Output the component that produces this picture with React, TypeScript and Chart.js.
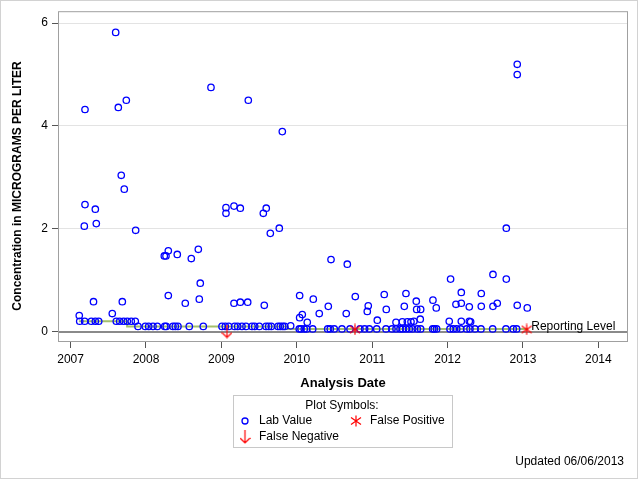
import React, { useEffect, useRef } from "react";
import { Chart, registerables } from "chart.js";
Chart.register(...registerables);

const X_TICKS = [2007, 2008, 2009, 2010, 2011, 2012, 2013, 2014];
const Y_TICKS = [0, 2, 4, 6];
const X_MIN = 2006.833;
const X_MAX = 2014.393;
const Y_MIN = -0.204;
const Y_MAX = 6.233;

// Detected lab values (decimal year, micrograms per liter)
const labDates = [
  2007.598, 2007.191, 2007.633, 2007.739, 2008.862, 2009.357, 2009.808, 2012.924, 2012.924,
  2007.672, 2007.712, 2007.191, 2007.328, 2007.341, 2007.182, 2007.863, 2008.243, 2008.265,
  2008.296, 2008.415, 2008.601, 2008.694, 2008.72, 2008.707, 2008.296, 2008.521, 2007.304,
  2007.686, 2007.115, 2007.553, 2009.061, 2009.061, 2009.167, 2009.251, 2009.167, 2009.251,
  2009.349, 2009.556, 2009.595, 2009.649, 2009.768, 2010.454, 2010.67, 2012.04, 2009.569,
  2010.038, 2010.219, 2010.418, 2010.298, 2010.776, 2011.16, 2011.448, 2011.806, 2011.585,
  2010.948, 2010.935, 2010.656, 2011.187, 2011.426, 2011.59, 2011.643, 2011.638, 2011.85,
  2010.038, 2010.073, 2010.139, 2011.068, 2011.316, 2011.4, 2011.466, 2011.515, 2011.554,
  2012.779, 2012.602, 2012.779, 2012.182, 2012.447, 2012.111, 2012.182, 2012.288, 2012.447,
  2012.602, 2012.659, 2012.924, 2013.057, 2012.022, 2012.182, 2012.288, 2012.306, 2009.919,
];
const labValues = [
  5.82, 4.32, 4.36, 4.5, 4.75, 4.5, 3.89, 5.2, 5.0,
  3.04, 2.77, 2.47, 2.38, 2.1, 2.05, 1.97, 1.47, 1.47,
  1.57, 1.5, 1.42, 1.6, 0.94, 0.63, 0.7, 0.55, 0.58,
  0.58, 0.31, 0.35, 2.41, 2.3, 2.44, 2.4, 0.55, 0.57,
  0.57, 2.3, 2.4, 1.91, 2.01, 1.4, 1.31, 1.02, 0.51,
  0.7, 0.63, 0.49, 0.35, 0.68, 0.72, 0.74, 0.61, 0.59,
  0.5, 0.39, 0.35, 0.43, 0.49, 0.43, 0.43, 0.24, 0.46,
  0.27, 0.33, 0.18, 0.22, 0.18, 0.19, 0.19, 0.19, 0.2,
  2.01, 1.11, 1.02, 0.76, 0.74, 0.53, 0.55, 0.48, 0.49,
  0.49, 0.55, 0.51, 0.46, 0.2, 0.2, 0.2, 0.19, 0.11,
];

// Lab values reported at the reporting level
const rl020Dates = [
  2007.121, 2007.187, 2007.275, 2007.328, 2007.373, 2007.606, 2007.651, 2007.704, 2007.752,
  2007.805, 2007.858,
];
const rl010Dates = [
  2007.894, 2007.991, 2008.036, 2008.093, 2008.15, 2008.248, 2008.269, 2008.358, 2008.389,
  2008.424, 2008.574, 2008.76, 2009.008, 2009.052, 2009.097, 2009.176, 2009.216, 2009.273,
  2009.326, 2009.406, 2009.442, 2009.503, 2009.592, 2009.627, 2009.662, 2009.751, 2009.781,
  2009.813, 2009.839,
];
const rl005Dates = [
  2010.033, 2010.056, 2010.099, 2010.131, 2010.211, 2010.41, 2010.444, 2010.497, 2010.599,
  2010.706, 2010.838, 2010.9, 2010.962, 2011.06, 2011.183, 2011.263, 2011.316, 2011.369,
  2011.404, 2011.448, 2011.492, 2011.537, 2011.598, 2011.643, 2011.802, 2011.824, 2011.855,
  2012.032, 2012.076, 2012.121, 2012.174, 2012.253, 2012.297, 2012.363, 2012.443, 2012.598,
  2012.774, 2012.871, 2012.916,
];

// Reporting level (step line)
const rlDates = [2007.11, 2007.75, 2009.88, 2013.07];
const rlValues = [0.2, 0.1, 0.05, 0.05];

// False negatives / positives
const fnDates = [2009.074];
const fnValues = [0];
const fpDates = [2010.772, 2013.049];
const fpValues = [0.04, 0.04];

const FONT = "'Liberation Sans', Arial, Helvetica, sans-serif";
const BLUE = "#0000ff";
const RED = "#ff0000";
const GREEN = "#a3bf6c";

function makeArrow(): HTMLCanvasElement {
  const c = document.createElement("canvas");
  c.width = 11;
  c.height = 14;
  const g = c.getContext("2d")!;
  g.strokeStyle = RED;
  g.lineWidth = 1.2;
  g.beginPath();
  g.moveTo(5.5, 0);
  g.lineTo(5.5, 13);
  g.moveTo(0.5, 8);
  g.lineTo(5.5, 13);
  g.lineTo(10.5, 8);
  g.stroke();
  return c;
}

function makeAsterisk(): HTMLCanvasElement {
  const c = document.createElement("canvas");
  c.width = 12;
  c.height = 12;
  const g = c.getContext("2d")!;
  g.strokeStyle = RED;
  g.lineWidth = 1.2;
  g.beginPath();
  g.moveTo(6, 0.5);
  g.lineTo(6, 11.5);
  g.moveTo(1, 2.5);
  g.lineTo(11, 9.5);
  g.moveTo(1, 9.5);
  g.lineTo(11, 2.5);
  g.stroke();
  return c;
}

export default function App() {
  const ref = useRef<HTMLCanvasElement>(null);

  useEffect(() => {
    const arrow = makeArrow();
    const aster = makeAsterisk();
    const lab = [
      ...labDates.map((d, i) => ({ x: d, y: labValues[i] })),
      ...rl020Dates.map((d) => ({ x: d, y: 0.2 })),
      ...rl010Dates.map((d) => ({ x: d, y: 0.1 })),
      ...rl005Dates.map((d) => ({ x: d, y: 0.05 })),
    ];

    const decor = {
      id: "decor",
      beforeDatasetsDraw(chart: any) {
        const { ctx, chartArea: a, scales } = chart;
        const y0 = Math.round(scales.y.getPixelForValue(0));
        ctx.save();
        ctx.strokeStyle = "#8a8a8a";
        ctx.lineWidth = 2;
        ctx.beginPath();
        ctx.moveTo(a.left, y0);
        ctx.lineTo(a.right, y0);
        ctx.stroke();
        ctx.restore();
      },
      afterDraw(chart: any) {
        const { ctx, chartArea: a, scales } = chart;
        ctx.save();
        // plot frame
        ctx.strokeStyle = "#a0a0a0";
        ctx.lineWidth = 1;
        ctx.strokeRect(a.left + 0.5, a.top + 0.5, a.right - a.left - 1, a.bottom - a.top - 1);
        // outer border
        ctx.strokeStyle = "#d2d2d2";
        ctx.strokeRect(0.5, 0.5, 637, 478);

        ctx.fillStyle = "#000";
        // reporting level label
        ctx.font = `12px ${FONT}`;
        ctx.textBaseline = "middle";
        ctx.textAlign = "left";
        const lx = scales.x.getPixelForValue(rlDates[rlDates.length - 1]) + 3;
        const ly = scales.y.getPixelForValue(rlValues[rlValues.length - 1]) - 2;
        ctx.fillText("Reporting Level", lx, ly);

        // axis titles
        ctx.font = `bold 13px ${FONT}`;
        ctx.textAlign = "center";
        ctx.fillText("Analysis Date", (a.left + a.right) / 2, 383);
        ctx.save();
        ctx.font = `bold 12px ${FONT}`;
        ctx.translate(18, 186);
        ctx.rotate(-Math.PI / 2);
        ctx.fillText("Concentration in MICROGRAMS PER LITER", 0, 0);
        ctx.restore();

        // legend
        ctx.strokeStyle = "#c8c8c8";
        ctx.strokeRect(233.5, 395.5, 219, 52);
        ctx.font = `12px ${FONT}`;
        ctx.textAlign = "center";
        ctx.fillText("Plot Symbols:", 342, 406);
        ctx.textAlign = "left";
        ctx.fillText("Lab Value", 259, 421);
        ctx.fillText("False Positive", 370, 421);
        ctx.fillText("False Negative", 259, 437);
        ctx.strokeStyle = BLUE;
        ctx.lineWidth = 1.3;
        ctx.beginPath();
        ctx.arc(245, 421, 3, 0, Math.PI * 2);
        ctx.stroke();
        ctx.drawImage(aster, 356 - 6, 421 - 6);
        ctx.drawImage(arrow, 245 - 5.5, 437 - 7);

        // updated text
        ctx.textAlign = "right";
        ctx.fillText("Updated 06/06/2013", 624, 462);
        ctx.restore();
      },
    };

    const chart = new Chart(ref.current!, {
      type: "scatter",
      data: {
        datasets: [
          {
            label: "False Negative",
            data: fnDates.map((d, i) => ({ x: d, y: fnValues[i] })),
            pointStyle: arrow as any,
            pointRadius: 6,
          },
          {
            label: "False Positive",
            data: fpDates.map((d, i) => ({ x: d, y: fpValues[i] })),
            pointStyle: aster as any,
            pointRadius: 6,
          },
          {
            label: "Lab Value",
            data: lab,
            pointStyle: "circle",
            pointRadius: 3.2,
            borderWidth: 1.3,
            borderColor: BLUE,
            backgroundColor: "rgba(0,0,0,0)",
          },
          {
            label: "Reporting Level",
            data: rlDates.map((d, i) => ({ x: d, y: rlValues[i] })),
            showLine: true,
            stepped: "before",
            borderColor: GREEN,
            borderWidth: 2,
            pointRadius: 0,
          } as any,
        ],
      },
      options: {
        responsive: false,
        animation: false,
        events: [],
        layout: { padding: { left: 0, top: 11, right: 12, bottom: 0 } },
        plugins: { legend: { display: false }, tooltip: { enabled: false } },
        scales: {
          x: {
            type: "linear",
            min: X_MIN,
            max: X_MAX,
            afterBuildTicks: (s: any) => {
              s.ticks = X_TICKS.map((v) => ({ value: v }));
            },
            afterFit: (s: any) => {
              s.height = 138;
            },
            grid: { drawOnChartArea: false, drawTicks: true, tickLength: 6, tickColor: "#555", tickWidth: 1 },
            border: { display: false },
            ticks: {
              padding: 4,
              color: "#000",
              font: { family: FONT, size: 12 },
              autoSkip: false,
              maxRotation: 0,
              callback: (v: any) => String(v),
            },
          },
          y: {
            type: "linear",
            min: Y_MIN,
            max: Y_MAX,
            afterBuildTicks: (s: any) => {
              s.ticks = Y_TICKS.map((v) => ({ value: v }));
            },
            afterFit: (s: any) => {
              s.width = 58;
            },
            grid: {
              color: (c: any) => (c.tick && c.tick.value === 0 ? "rgba(0,0,0,0)" : "#e3e3e3"),
              lineWidth: 1,
              drawTicks: true,
              tickLength: 6,
              tickColor: "#555",
              tickWidth: 1,
            },
            border: { display: false },
            ticks: {
              padding: 4,
              color: "#000",
              font: { family: FONT, size: 12 },
              callback: (v: any) => String(v),
            },
          },
        },
      },
      plugins: [decor],
    } as any);
    return () => chart.destroy();
  }, []);

  return (
    <div style={{ position: "fixed", left: 0, top: 0, width: 640, height: 480, background: "#fff" }}>
      <canvas ref={ref} width={640} height={480} style={{ display: "block" }} />
    </div>
  );
}
